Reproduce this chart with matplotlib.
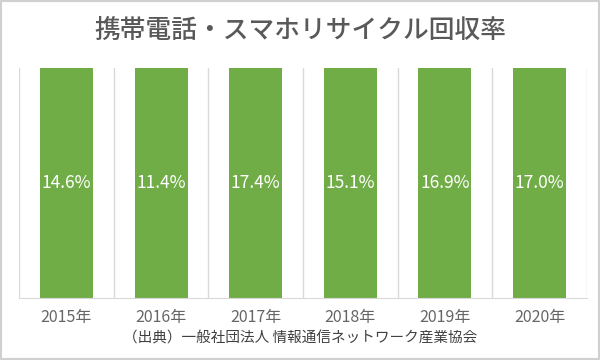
import matplotlib.pyplot as plt
from matplotlib.patches import Rectangle

plt.rcParams['font.family'] = ['Noto Sans CJK JP', 'DejaVu Sans']

years = ['2015年', '2016年', '2017年', '2018年', '2019年', '2020年']
rates = [14.6, 11.4, 17.4, 15.1, 16.9, 17.0]
title = '携帯電話・スマホリサイクル回収率'
source = '（出典）一般社団法人 情報通信ネットワーク産業協会'

fig = plt.figure(figsize=(6, 3.6), dpi=100)
ax = fig.add_axes([0.032, 0.172, 0.946, 0.639])

x = range(len(years))
ax.bar(x, rates, width=0.56, color='#70ad47', zorder=2)
# 軸の上限が値より小さいので棒はすべて上端まで届く
ax.set_ylim(0, 10)
ax.set_xlim(-0.5, len(years) - 0.5)

for i, v in enumerate(rates):
    ax.text(i, 0.5, f'{v:.1f}%', transform=ax.get_xaxis_transform(),
            ha='center', va='center', color='white', fontsize=12.5, zorder=3)

ax.set_xticks(list(x))
ax.set_xticklabels(years, fontsize=11.5, color='#666666')
ax.set_xticks([i - 0.5 for i in range(len(years) + 1)], minor=True)
ax.grid(True, which='minor', axis='x', color='#d9d9d9', linewidth=1, zorder=0)
ax.tick_params(axis='x', which='both', length=0, pad=8)
ax.set_yticks([])
for s in ['top', 'left', 'right']:
    ax.spines[s].set_visible(False)
ax.spines['bottom'].set_color('#d9d9d9')

fig.text(0.5, 0.915, title, ha='center', va='center', fontsize=18.5,
         color='#595959', fontweight='medium')
fig.text(0.5, 0.06, source, ha='center', va='center', fontsize=10.5, color='#404040')

fig.patches.append(Rectangle((0, 0), 1, 1, transform=fig.transFigure, fill=False,
                             edgecolor='#d0d0d0', linewidth=3))

fig.savefig('out.png', dpi=100)
